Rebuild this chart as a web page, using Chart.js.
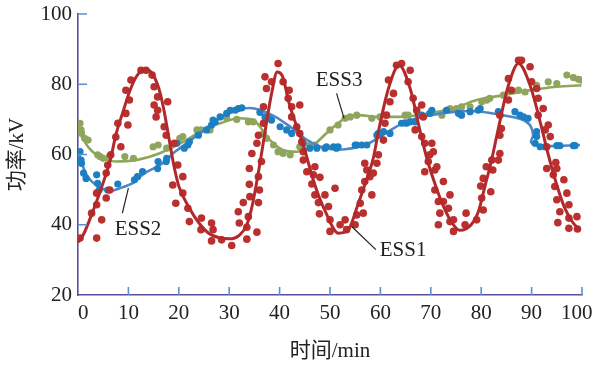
<!DOCTYPE html>
<html>
<head>
<meta charset="utf-8">
<script src="https://cdn.jsdelivr.net/npm/chart.js@4/dist/chart.umd.min.js"></script>
<style>
  html, body { margin: 0; padding: 0; background: #fff; }
</style>
</head>
<body>
<canvas id="chart" width="593" height="365"></canvas>
<script>
// axis ticks
const xTicks = [0, 10, 20, 30, 40, 50, 60, 70, 80, 90, 100];
const yTicks = [20, 40, 60, 80, 100];

// ESS1 fitted curve + samples
const ess1LineX = [0, 1, 3, 5, 6.5, 7.5, 9, 10.2, 11.5, 13.2, 14.5, 16, 17, 18, 19, 20, 22, 24, 26, 28, 30, 32, 33.5, 34.5, 35.5, 36.5, 37.5, 38.5, 39.5, 40.5, 42, 44.7, 47, 49, 51.7, 53.6, 55.6, 57.3, 58.6, 59.6, 61.6, 63.7, 65.9, 67.9, 69.2, 70.5, 72, 74, 75.8, 78, 79.5, 80.8, 82, 83.4, 85.4, 87.4, 89.7, 91.7, 93.3, 95, 96.5, 98, 99.5];
const ess1LineY = [35, 37, 44, 52, 59, 65.5, 72.5, 77.8, 82, 84.3, 83.5, 79, 73, 65, 57, 51, 45, 40.5, 37.5, 36.3, 36, 37, 40, 45, 52.5, 61, 70, 78, 83.5, 82.5, 74, 62.7, 51.3, 44, 37.6, 38.5, 46, 53, 59, 66.5, 78.8, 85.4, 78.8, 66.5, 59, 53, 47, 41, 38.4, 40, 44, 51.3, 58, 67.4, 79.7, 85.9, 79.7, 69.3, 60, 51.3, 45, 41, 38.5];
const ess1DotX = [0.4, 3.7, 2.7, 3.7, 4.7, 5.6, 3.7, 6.3, 5.6, 5.9, 6.5, 7.5, 8.5, 7.9, 9.9, 9.5, 9.5, 10.2, 10.5, 12.5, 13.5, 14.7, 15.1, 15.8, 15.1, 15.8, 17.8, 15.5, 17.1, 17.5, 19.1, 19.8, 20.8, 18.8, 19.4, 20.8, 21.8, 22.1, 24.4, 24.5, 26.5, 26.8, 26.5, 28.5, 30.5, 33.5, 35.5, 33.5, 32, 31.8, 33.8, 32.8, 34.1, 35.8, 36, 34, 35.8, 34, 36.4, 34.5, 35.5, 35.8, 36.8, 36.8, 37.4, 37.1, 38.4, 39.7, 40.7, 41.9, 41.7, 42.4, 42.4, 44, 43.4, 44, 44.4, 44.7, 44.7, 45.4, 46.7, 47, 46.4, 48, 47, 49, 47.7, 49.7, 47.9, 50, 51, 50, 52, 53, 53.3, 55, 55.3, 56.6, 56, 58.3, 56.3, 56.9, 58.6, 57.3, 59.3, 56.9, 57.9, 59.6, 60.6, 60.9, 61.2, 61.9, 62.6, 61.6, 63.2, 64.2, 65.9, 65.5, 66.5, 67.2, 68.2, 68.5, 66.9, 68.2, 68.8, 70.2, 69.8, 70.5, 69.5, 68.8, 70.8, 72.5, 71.2, 70.8, 71.5, 73.8, 72.5, 71.8, 73.5, 71.5, 73.8, 74.5, 74.5, 76.8, 77, 79.1, 80.4, 80.1, 81.9, 79.9, 80.4, 82.3, 81, 83.4, 82.1, 83.7, 83.7, 84, 83.7, 85.4, 86, 85.4, 87.4, 88, 89.7, 90, 91, 91.3, 92.3, 91.3, 93.3, 92.7, 93.7, 93, 93, 95, 96.4, 94.8, 94.3, 94.6, 97, 95, 97.4, 95.6, 99, 97.4, 95.2, 97.4, 99.1];
const ess1DotY = [36.2, 36.2, 43.3, 45.7, 41.4, 47.6, 49, 49.9, 54.7, 57, 59.9, 65, 62.2, 68.9, 68.4, 71.7, 78.3, 75.5, 81.2, 84, 84, 82.6, 79.3, 76.4, 74.1, 72.6, 75, 70.7, 67.9, 65.5, 63.2, 57, 53.7, 51.3, 46.1, 49, 44.7, 40.9, 38.6, 41.9, 40.5, 38.6, 35.4, 35.7, 34.1, 35.9, 37.9, 39.3, 40.5, 43.7, 42.3, 46.3, 48, 46.3, 49.9, 51.5, 53.7, 56, 58, 60.3, 63.2, 65.5, 68.9, 73.6, 78.8, 82.1, 80.7, 85.9, 80.7, 78.3, 76, 73.6, 70.7, 74.1, 67.9, 66, 63.6, 60.8, 58.4, 55.1, 54.2, 56.5, 51.6, 53.5, 48.5, 48.5, 46.3, 45.2, 43.1, 38.1, 50.4, 41.4, 40, 41.4, 38.6, 40, 42.8, 43.3, 46.1, 48.5, 49.9, 52.3, 54.7, 55.6, 57.5, 57.5, 53.7, 59.9, 64.1, 68.9, 71.2, 75, 77.4, 81.2, 85.4, 85.9, 84, 80.7, 76, 72.6, 74.1, 70.7, 67, 65.1, 63.2, 63.2, 59.9, 60.8, 58, 55.1, 55.6, 52.3, 56.5, 49.9, 46.6, 48.5, 46.6, 43.3, 44.7, 40, 40.9, 38.1, 41.4, 40, 43.3, 41.4, 44.2, 47.6, 49.4, 51, 53.2, 55.6, 56.5, 58.4, 58.4, 60.3, 65.5, 67.4, 71.2, 75.5, 78.3, 81.6, 86.8, 86.8, 85, 80.7, 78.8, 76, 73.1, 71.2, 68.4, 67, 65.1, 62.2, 56, 56, 52.8, 57.7, 54.2, 50.9, 49, 47.1, 45.7, 43.7, 42.3, 41.9, 40.6, 39, 38.8];

// ESS2
const ess2LineX = [0, 1, 2, 3.6, 6.2, 8.5, 11, 13, 16.8, 19, 21.4, 25.4, 28.2, 32, 35, 38.8, 42, 45.4, 48, 50, 53, 57, 61, 65, 70, 75, 79, 83.7, 87.7, 89.6, 90.3, 89.9, 91.3, 95.6, 99.6];
const ess2LineY = [61, 56.5, 53.5, 51.3, 49.6, 50.5, 52, 54.5, 57.5, 60.5, 63, 67.5, 70.5, 72.8, 73.1, 71, 68, 64.2, 62.3, 61.6, 61.5, 62.7, 66, 69.3, 71.2, 72.2, 72.3, 71.3, 70.2, 68.5, 65.5, 63.5, 62.5, 62.5, 62.7];
const ess2DotX = [0.4, 0.7, 1.1, 0.6, 1.6, 3.7, 3.9, 4.2, 5.9, 7.9, 11.2, 11.8, 12.8, 15.8, 15.9, 17.5, 17.6, 19.6, 21.1, 21.8, 22.1, 23.9, 25.5, 26.5, 26.8, 27.2, 28.2, 29.5, 30.2, 31.2, 31.8, 32.5, 36.1, 37.1, 37.8, 38.4, 40.1, 41.4, 42.4, 44.7, 46, 47.4, 49, 49.3, 50.7, 51.3, 51.6, 55, 55.3, 56.3, 57.3, 59.3, 59.6, 59.9, 60.6, 61.9, 64.2, 64.9, 65.2, 65.9, 66.9, 68.2, 69.8, 70.2, 73.1, 75.5, 76.1, 77.8, 79.4, 79.8, 83.4, 86.7, 87.7, 88.4, 89.3, 91, 91, 90.7, 91.7, 92.7, 95, 95.6, 98.3, 98.6];
const ess2DotY = [60.8, 57.5, 54.7, 58.4, 53.2, 54.2, 51.8, 49.9, 49.9, 51.6, 52.8, 53.7, 55.1, 56, 58, 58, 58.9, 63.2, 61.8, 62.7, 63.6, 65.5, 67, 68.4, 69.8, 69.3, 70.7, 71.7, 72.6, 72.6, 73.1, 73.3, 72, 70.7, 70.3, 69.8, 67.9, 67, 66, 63.2, 61.8, 61.8, 61.8, 62.2, 62.2, 61.8, 62.2, 62.7, 62.7, 62.7, 62.7, 65.5, 66, 65.7, 66.5, 66, 68.9, 69, 68.9, 69.3, 69.3, 71.2, 71.7, 72.6, 72.6, 71.7, 71.2, 72.2, 72.6, 73.1, 72.2, 72.2, 71.2, 70.7, 70.3, 66.5, 65.1, 63.2, 62.2, 62.2, 62.5, 62.5, 62.5, 62.5];

// ESS3
const ess3LineX = [0, 2.2, 4.9, 7.5, 11.5, 16.1, 20.8, 25.4, 28.2, 32.1, 34.8, 36.1, 38.1, 40.7, 43.4, 46.7, 50, 53, 55.6, 59.6, 63.6, 67.5, 71.5, 74.8, 79.1, 84.4, 89.7, 95, 99.9];
const ess3LineY = [67, 61.8, 58.9, 58, 58.4, 60.3, 63.5, 67.5, 68.9, 70.3, 69.8, 67.9, 64.1, 61.3, 60.8, 62.7, 67, 70.3, 71.2, 70.7, 70.7, 71.2, 72.2, 73.3, 75.5, 76.9, 78.3, 79.3, 79.7];
const ess3DotX = [0.4, 0.6, 0.7, 1.3, 2, 3.9, 4.4, 5, 6.2, 9.3, 11, 14.9, 15.9, 17.6, 20.2, 20.8, 23.6, 24.4, 26.2, 29.5, 31.5, 33.8, 34.8, 36.8, 37.4, 38.8, 39.7, 40.7, 42.1, 44, 46, 47, 50, 51.6, 53, 54, 55.3, 58.3, 59.9, 64.9, 65.5, 67.5, 72.2, 73.8, 75.1, 76.1, 77.8, 80.1, 81.1, 81.7, 84.4, 87.4, 88.7, 91, 93.3, 95, 97, 98.3, 99.3, 99.9];
const ess3DotY = [68.9, 67, 66, 64.6, 64.1, 59.9, 59.4, 58.9, 59.4, 59.4, 58.9, 62.2, 62.7, 61.8, 64.6, 65.1, 67, 67, 67, 70.3, 70, 69.3, 69.3, 66, 64.6, 62.7, 60.8, 60.3, 59.9, 62.2, 62.7, 62.7, 67, 68.4, 70.3, 70.7, 71.2, 70.3, 70.7, 71.2, 71.2, 71.2, 71.2, 73.1, 73.1, 73.6, 73.6, 75, 75.5, 76, 76.9, 78.3, 77.8, 79.7, 80.7, 80.2, 82.6, 81.9, 81.4, 81.2];

// callout labels (data units)
const callouts = [
  { text: 'ESS3', at: [51.8, 81.2], from: [51.3, 77.4], to: [52.8, 70.3] },
  { text: 'ESS2', at: [11.9, 38.6], from: [10, 50.4], to: [8.8, 43.3] },
  { text: 'ESS1', at: [64.5, 32.6], from: [54.3, 39.5], to: [59.1, 32.9] }
];

const pts = (xs, ys) => xs.map((x, i) => ({ x: x, y: ys[i] }));

const serif = "'Liberation Serif', 'Times New Roman', serif";
const mixed = "'Liberation Serif', 'Noto Sans CJK SC', serif";
const axisColor = '#5b4c9c';
const tickColor = '#5b90d0';
const FIG = '\u2007';

// inward tick marks, drawn from the scales
const innerTicks = {
  id: 'innerTicks',
  afterDraw(chart) {
    const { ctx, chartArea: a, scales: { x, y } } = chart;
    ctx.save();
    ctx.strokeStyle = tickColor;
    ctx.lineWidth = 1.6;
    ctx.beginPath();
    xTicks.slice(1).forEach(v => {
      const px = x.getPixelForValue(v);
      ctx.moveTo(px, a.bottom);
      ctx.lineTo(px, a.bottom - 8);
    });
    yTicks.slice(1).forEach(v => {
      const py = y.getPixelForValue(v);
      ctx.moveTo(a.left, py);
      ctx.lineTo(a.left + 9, py);
    });
    ctx.stroke();
    ctx.restore();
  }
};

const labels = {
  id: 'labels',
  afterDraw(chart) {
    const { ctx, scales: { x, y } } = chart;
    ctx.save();
    ctx.strokeStyle = '#222';
    ctx.lineWidth = 1.2;
    ctx.fillStyle = '#222';
    ctx.font = '21px ' + serif;
    ctx.textAlign = 'center';
    ctx.textBaseline = 'middle';
    callouts.forEach(c => {
      ctx.beginPath();
      ctx.moveTo(x.getPixelForValue(c.from[0]), y.getPixelForValue(c.from[1]));
      ctx.lineTo(x.getPixelForValue(c.to[0]), y.getPixelForValue(c.to[1]));
      ctx.stroke();
      ctx.fillText(c.text, x.getPixelForValue(c.at[0]), y.getPixelForValue(c.at[1]));
    });
    ctx.restore();
  }
};

const ctx = document.getElementById('chart').getContext('2d');
new Chart(ctx, {
  type: 'scatter',
  data: {
    datasets: [
      { type: 'line', label: 'ESS1', data: pts(ess1LineX, ess1LineY), borderColor: '#b3292b', borderWidth: 3, pointRadius: 0, cubicInterpolationMode: 'monotone', fill: false, order: 0 },
      { label: 'ESS1 samples', data: pts(ess1DotX, ess1DotY), backgroundColor: '#b9302f', borderWidth: 0, pointRadius: 3.8, order: 1 },
      { type: 'line', label: 'ESS2', data: pts(ess2LineX, ess2LineY), borderColor: '#4f86c6', borderWidth: 2.6, pointRadius: 0, tension: 0.35, fill: false, order: 3 },
      { label: 'ESS2 samples', data: pts(ess2DotX, ess2DotY), backgroundColor: '#1b7fc1', borderWidth: 0, pointRadius: 3.6, order: 2 },
      { type: 'line', label: 'ESS3', data: pts(ess3LineX, ess3LineY), borderColor: '#8ea75c', borderWidth: 2.6, pointRadius: 0, cubicInterpolationMode: 'monotone', fill: false, order: 5 },
      { label: 'ESS3 samples', data: pts(ess3DotX, ess3DotY), backgroundColor: '#8fa55e', borderWidth: 0, pointRadius: 3.6, order: 4 }
    ]
  },
  options: {
    responsive: false,
    animation: false,
    layout: { padding: { top: 14, right: 11, left: 0, bottom: 0 } },
    plugins: { legend: { display: false }, tooltip: { enabled: false } },
    scales: {
      x: {
        type: 'linear',
        min: 0,
        max: 100,
        afterBuildTicks: s => { s.ticks = xTicks.map(v => ({ value: v })); },
        afterFit: s => { s.height = 70; s.paddingLeft = 0; s.paddingRight = 0; },
        grid: { display: false, drawTicks: false },
        border: { display: true, color: axisColor, width: 1.6 },
        ticks: {
          color: '#222', padding: 6, maxRotation: 0, font: { family: serif, size: 21 },
          // nudge the end labels inward like the original
          callback: v => v === 0 ? FIG + '0' : (v === 100 ? '100' + FIG : String(v))
        },
        title: { display: true, text: '时间/min', color: '#222', padding: { top: 0, bottom: 1 }, font: { family: mixed, size: 21 } }
      },
      y: {
        type: 'linear',
        min: 20,
        max: 100,
        afterBuildTicks: s => { s.ticks = yTicks.map(v => ({ value: v })); },
        afterFit: s => { s.width = 78; s.paddingTop = 0; s.paddingBottom = 0; },
        grid: { display: false, drawTicks: false },
        border: { display: true, color: axisColor, width: 1.6 },
        ticks: { color: '#222', padding: 6, font: { family: serif, size: 21 } },
        title: { display: true, text: '功率/kV', color: '#222', padding: { top: 5, bottom: 0 }, font: { family: mixed, size: 21 } }
      }
    }
  },
  plugins: [innerTicks, labels]
});
</script>
</body>
</html>
